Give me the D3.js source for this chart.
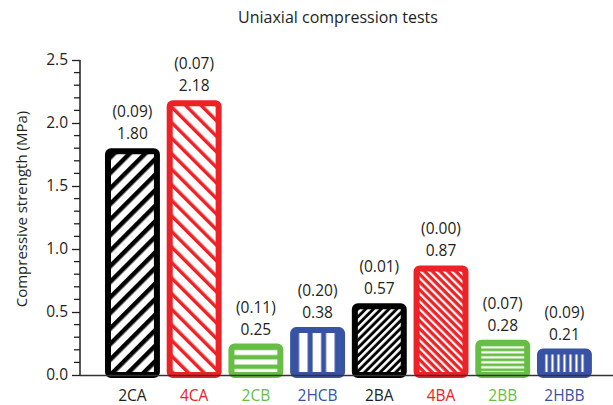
<!DOCTYPE html>
<html><head><meta charset="utf-8">
<script src="https://cdn.jsdelivr.net/npm/d3@7"></script>
<style>body{margin:0;background:#fff}svg{display:block}text{font-family:"Open Sans","Noto Sans",sans-serif}</style>
</head><body><svg id="c" width="613" height="405"></svg>
<script>
const categories = ["2CA","4CA","2CB","2HCB","2BA","4BA","2BB","2HBB"];
const strengths = [1.80,2.18,0.25,0.38,0.57,0.87,0.28,0.21];
const deviations = ["(0.09)","(0.07)","(0.11)","(0.20)","(0.01)","(0.00)","(0.07)","(0.09)"];
const strengthLabels = ["1.80","2.18","0.25","0.38","0.57","0.87","0.28","0.21"];
const yTicks = [0,0.5,1.0,1.5,2.0,2.5];

const colors = {black:"#000000", red:"#ec2227", green:"#67bd45", blue:"#3953a4"};
const barColor = [colors.black,colors.red,colors.green,colors.blue,colors.black,colors.red,colors.green,colors.blue];
const patterns = [
  {kind:"diag", angle:45, period:11, w:4.5, white:false},
  {kind:"diag", angle:-45, period:11, w:3.5, white:false},
  {kind:"h", period:9.5, w:5, white:true},
  {kind:"v", period:13.5, w:8.5, white:true},
  {kind:"diag", angle:45, period:5.5, w:2.6, white:true},
  {kind:"diag", angle:-45, period:5.5, w:2.2, white:true},
  {kind:"h", period:5, w:2.2, white:true},
  {kind:"v", period:6, w:2.2, white:true}
];

const svg = d3.select("#c");
const y = d3.scaleLinear().domain([0,2.5]).range([375,60]);
const x = d3.scaleBand().domain(categories).range([101.6,595.3]).paddingInner(0.11).paddingOuter(0.055);
const sw = 6;

const defs = svg.append("defs");
patterns.forEach((p,i)=>{
  const col = barColor[i];
  const bg = p.white ? col : "#fff";
  const fg = p.white ? "#fff" : col;
  const pat = defs.append("pattern").attr("id","p"+i).attr("patternUnits","userSpaceOnUse");
  if(p.kind==="diag"){
    pat.attr("width",p.period).attr("height",p.period).attr("patternTransform",`rotate(${p.angle})`);
    pat.append("rect").attr("width",p.period).attr("height",p.period).attr("fill",bg);
    pat.append("rect").attr("width",p.w).attr("height",p.period).attr("fill",fg);
  } else if(p.kind==="h"){
    const y0 = y(strengths[i]) + sw;
    pat.attr("width",10).attr("height",p.period).attr("y", y0 - (p.period-p.w)/2 + 0.5);
    pat.append("rect").attr("width",10).attr("height",p.period).attr("fill",bg);
    pat.append("rect").attr("width",10).attr("height",p.w).attr("y",(p.period-p.w)/2).attr("fill",fg);
  } else {
    const x0 = x(categories[i]) + sw;
    pat.attr("width",p.period).attr("height",10).attr("x", x0 + 0.5);
    pat.append("rect").attr("width",p.period).attr("height",10).attr("fill",bg);
    pat.append("rect").attr("height",10).attr("width",p.w).attr("x",(p.period-p.w)/2).attr("fill",fg);
  }
});

svg.append("g").selectAll("rect").data(categories).join("rect")
  .attr("x",(d)=>x(d)+sw/2)
  .attr("y",(d,i)=>y(strengths[i])+sw/2)
  .attr("width",x.bandwidth()-sw)
  .attr("height",(d,i)=>y(0)-y(strengths[i])-sw/2)
  .attr("rx",3).attr("ry",3)
  .attr("fill",(d,i)=>`url(#p${i})`)
  .attr("stroke",(d,i)=>barColor[i])
  .attr("stroke-width",sw);

const lab = svg.append("g").attr("font-size",15.5).attr("fill","#231f20").attr("text-anchor","middle");
categories.forEach((c,i)=>{
  const cx = x(c)+x.bandwidth()/2;
  const top = y(strengths[i]);
  lab.append("text").attr("x",cx).attr("y",top-9).text(strengthLabels[i]);
  lab.append("text").attr("x",cx).attr("y",top-31).text(deviations[i]);
});

const yAxis = d3.axisLeft(y).tickValues(yTicks).tickFormat(d3.format(".1f")).tickSize(8).tickPadding(4);
const gy = svg.append("g").attr("transform","translate(80,0)").call(yAxis);
gy.select(".domain").attr("stroke","#231f20").attr("stroke-width",1.5).attr("d","M0,60V375");
gy.selectAll(".tick line").attr("stroke","#231f20").attr("stroke-width",1.3);
gy.selectAll("text").attr("font-size",15.5).attr("fill","#231f20").attr("font-family",'"Open Sans","Noto Sans",sans-serif');
const minor = d3.range(0,2.51,0.1).filter(v=>Math.abs(v*2-Math.round(v*2))>1e-6);
gy.selectAll(".minor").data(minor).join("line").attr("class","minor")
  .attr("x1",-6).attr("x2",0).attr("y1",d=>y(d)).attr("y2",d=>y(d))
  .attr("stroke","#231f20").attr("stroke-width",1.3);

svg.append("line").attr("x1",80).attr("x2",613).attr("y1",375.5).attr("y2",375.5).attr("stroke","#333").attr("stroke-width",1.5);
svg.append("g").attr("font-size",15.5).attr("text-anchor","middle").selectAll("text").data(categories).join("text")
  .attr("x",d=>x(d)+x.bandwidth()/2).attr("y",401)
  .attr("fill",(d,i)=>barColor[i]===colors.black?"#231f20":barColor[i])
  .text(d=>d);

svg.append("text").attr("x",338).attr("y",23).attr("text-anchor","middle").attr("font-size",16).attr("fill","#231f20").text("Uniaxial compression tests");
svg.append("text").attr("transform","translate(27,209) rotate(-90)").attr("text-anchor","middle").attr("font-size",15).attr("fill","#231f20").text("Compressive strength (MPa)");
</script></body></html>
